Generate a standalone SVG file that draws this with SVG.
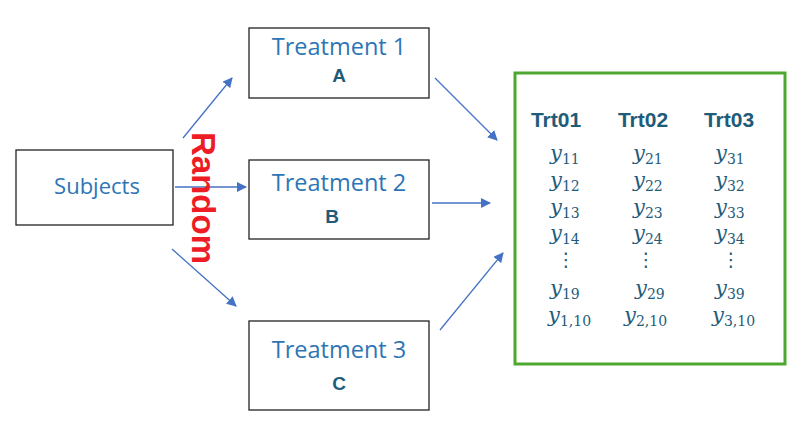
<svg xmlns="http://www.w3.org/2000/svg" width="806" height="437" viewBox="0 0 806 437">
<defs>
<marker id="ah" viewBox="0 0 10 10" refX="9" refY="5" markerWidth="10" markerHeight="10" markerUnits="userSpaceOnUse" orient="auto">
<path d="M0,0 L10,5 L0,10 z" fill="#4472C4"/>
</marker>
<style>
.box{fill:#fff;stroke:#222;stroke-width:1.3}
.lbl{font-family:"Open Sans","Noto Sans",sans-serif;font-size:23.5px;fill:#2E75B6;text-anchor:middle}
.let{font-family:"Liberation Sans",Arial,sans-serif;font-size:19px;font-weight:bold;fill:#1F5C7A;text-anchor:middle}
.hdr{font-family:"Liberation Sans",Arial,sans-serif;font-size:21px;font-weight:bold;fill:#1F5C7A;text-anchor:middle}
.y{font-family:"DejaVu Serif","Liberation Serif",serif;font-size:21px;font-style:italic;fill:#1F5C7A}
.sub{font-family:"DejaVu Serif","Liberation Serif",serif;font-size:14px;font-style:normal}
.dots{font-family:"DejaVu Sans",sans-serif;font-size:19px;fill:#1F5C7A;text-anchor:middle}
.conn{stroke:#4472C4;stroke-width:1.3;fill:none;marker-end:url(#ah)}
</style>
</defs>
<rect width="806" height="437" fill="#fff"/>
<g id="connectors">
<line class="conn" x1="183" y1="138" x2="232" y2="78"/>
<line class="conn" x1="175" y1="187" x2="246" y2="187"/>
<line class="conn" x1="172" y1="249" x2="236" y2="306"/>
<line class="conn" x1="435" y1="78" x2="497" y2="140"/>
<line class="conn" x1="432" y1="203" x2="490" y2="203"/>
<line class="conn" x1="440" y1="330" x2="503" y2="253"/>
</g>
<g id="subjects">
<rect class="box" x="16" y="150" width="157" height="75"/>
<text class="lbl" x="97" y="194" style="font-size:22px">Subjects</text>
</g>
<g id="random">
<text x="0" y="0" transform="translate(192,198) rotate(90)" font-family="Liberation Sans,Arial,sans-serif" font-size="33" font-weight="bold" fill="#EE1C25" text-anchor="middle">Random</text>
</g>
<g id="treatment1">
<rect class="box" x="249" y="28" width="180" height="70"/>
<text class="lbl" x="339" y="55">Treatment 1</text>
<text class="let" x="339" y="82">A</text>
</g>
<g id="treatment2">
<rect class="box" x="249" y="160" width="180" height="79"/>
<text class="lbl" x="339" y="191">Treatment 2</text>
<text class="let" x="332" y="223">B</text>
</g>
<g id="treatment3">
<rect class="box" x="249" y="321" width="180" height="89"/>
<text class="lbl" x="339" y="358">Treatment 3</text>
<text class="let" x="339" y="390">C</text>
</g>
<g id="results">
<rect x="515" y="73" width="270" height="291" fill="#fff" stroke="#4EA72E" stroke-width="3"/>
<text class="hdr" x="556" y="127">Trt01</text>
<text class="hdr" x="643" y="127">Trt02</text>
<text class="hdr" x="729" y="127">Trt03</text>
<text class="y" x="550" y="160">y<tspan class="sub" dy="4">11</tspan></text>
<text class="y" x="550" y="187">y<tspan class="sub" dy="4">12</tspan></text>
<text class="y" x="550" y="214">y<tspan class="sub" dy="4">13</tspan></text>
<text class="y" x="550" y="240">y<tspan class="sub" dy="4">14</tspan></text>
<text class="y" x="550" y="295">y<tspan class="sub" dy="4">19</tspan></text>
<text class="y" x="548" y="322">y<tspan class="sub" dy="4">1,10</tspan></text>
<text class="y" x="633" y="160">y<tspan class="sub" dy="4">21</tspan></text>
<text class="y" x="633" y="187">y<tspan class="sub" dy="4">22</tspan></text>
<text class="y" x="633" y="214">y<tspan class="sub" dy="4">23</tspan></text>
<text class="y" x="633" y="240">y<tspan class="sub" dy="4">24</tspan></text>
<text class="y" x="635" y="295">y<tspan class="sub" dy="4">29</tspan></text>
<text class="y" x="624" y="322">y<tspan class="sub" dy="4">2,10</tspan></text>
<text class="y" x="715" y="160">y<tspan class="sub" dy="4">31</tspan></text>
<text class="y" x="715" y="187">y<tspan class="sub" dy="4">32</tspan></text>
<text class="y" x="715" y="214">y<tspan class="sub" dy="4">33</tspan></text>
<text class="y" x="715" y="240">y<tspan class="sub" dy="4">34</tspan></text>
<text class="y" x="715" y="295">y<tspan class="sub" dy="4">39</tspan></text>
<text class="y" x="712" y="322">y<tspan class="sub" dy="4">3,10</tspan></text>
<text class="dots" x="566" y="266">⋮</text>
<text class="dots" x="646" y="266">⋮</text>
<text class="dots" x="731" y="266">⋮</text>
</g>
</svg>
